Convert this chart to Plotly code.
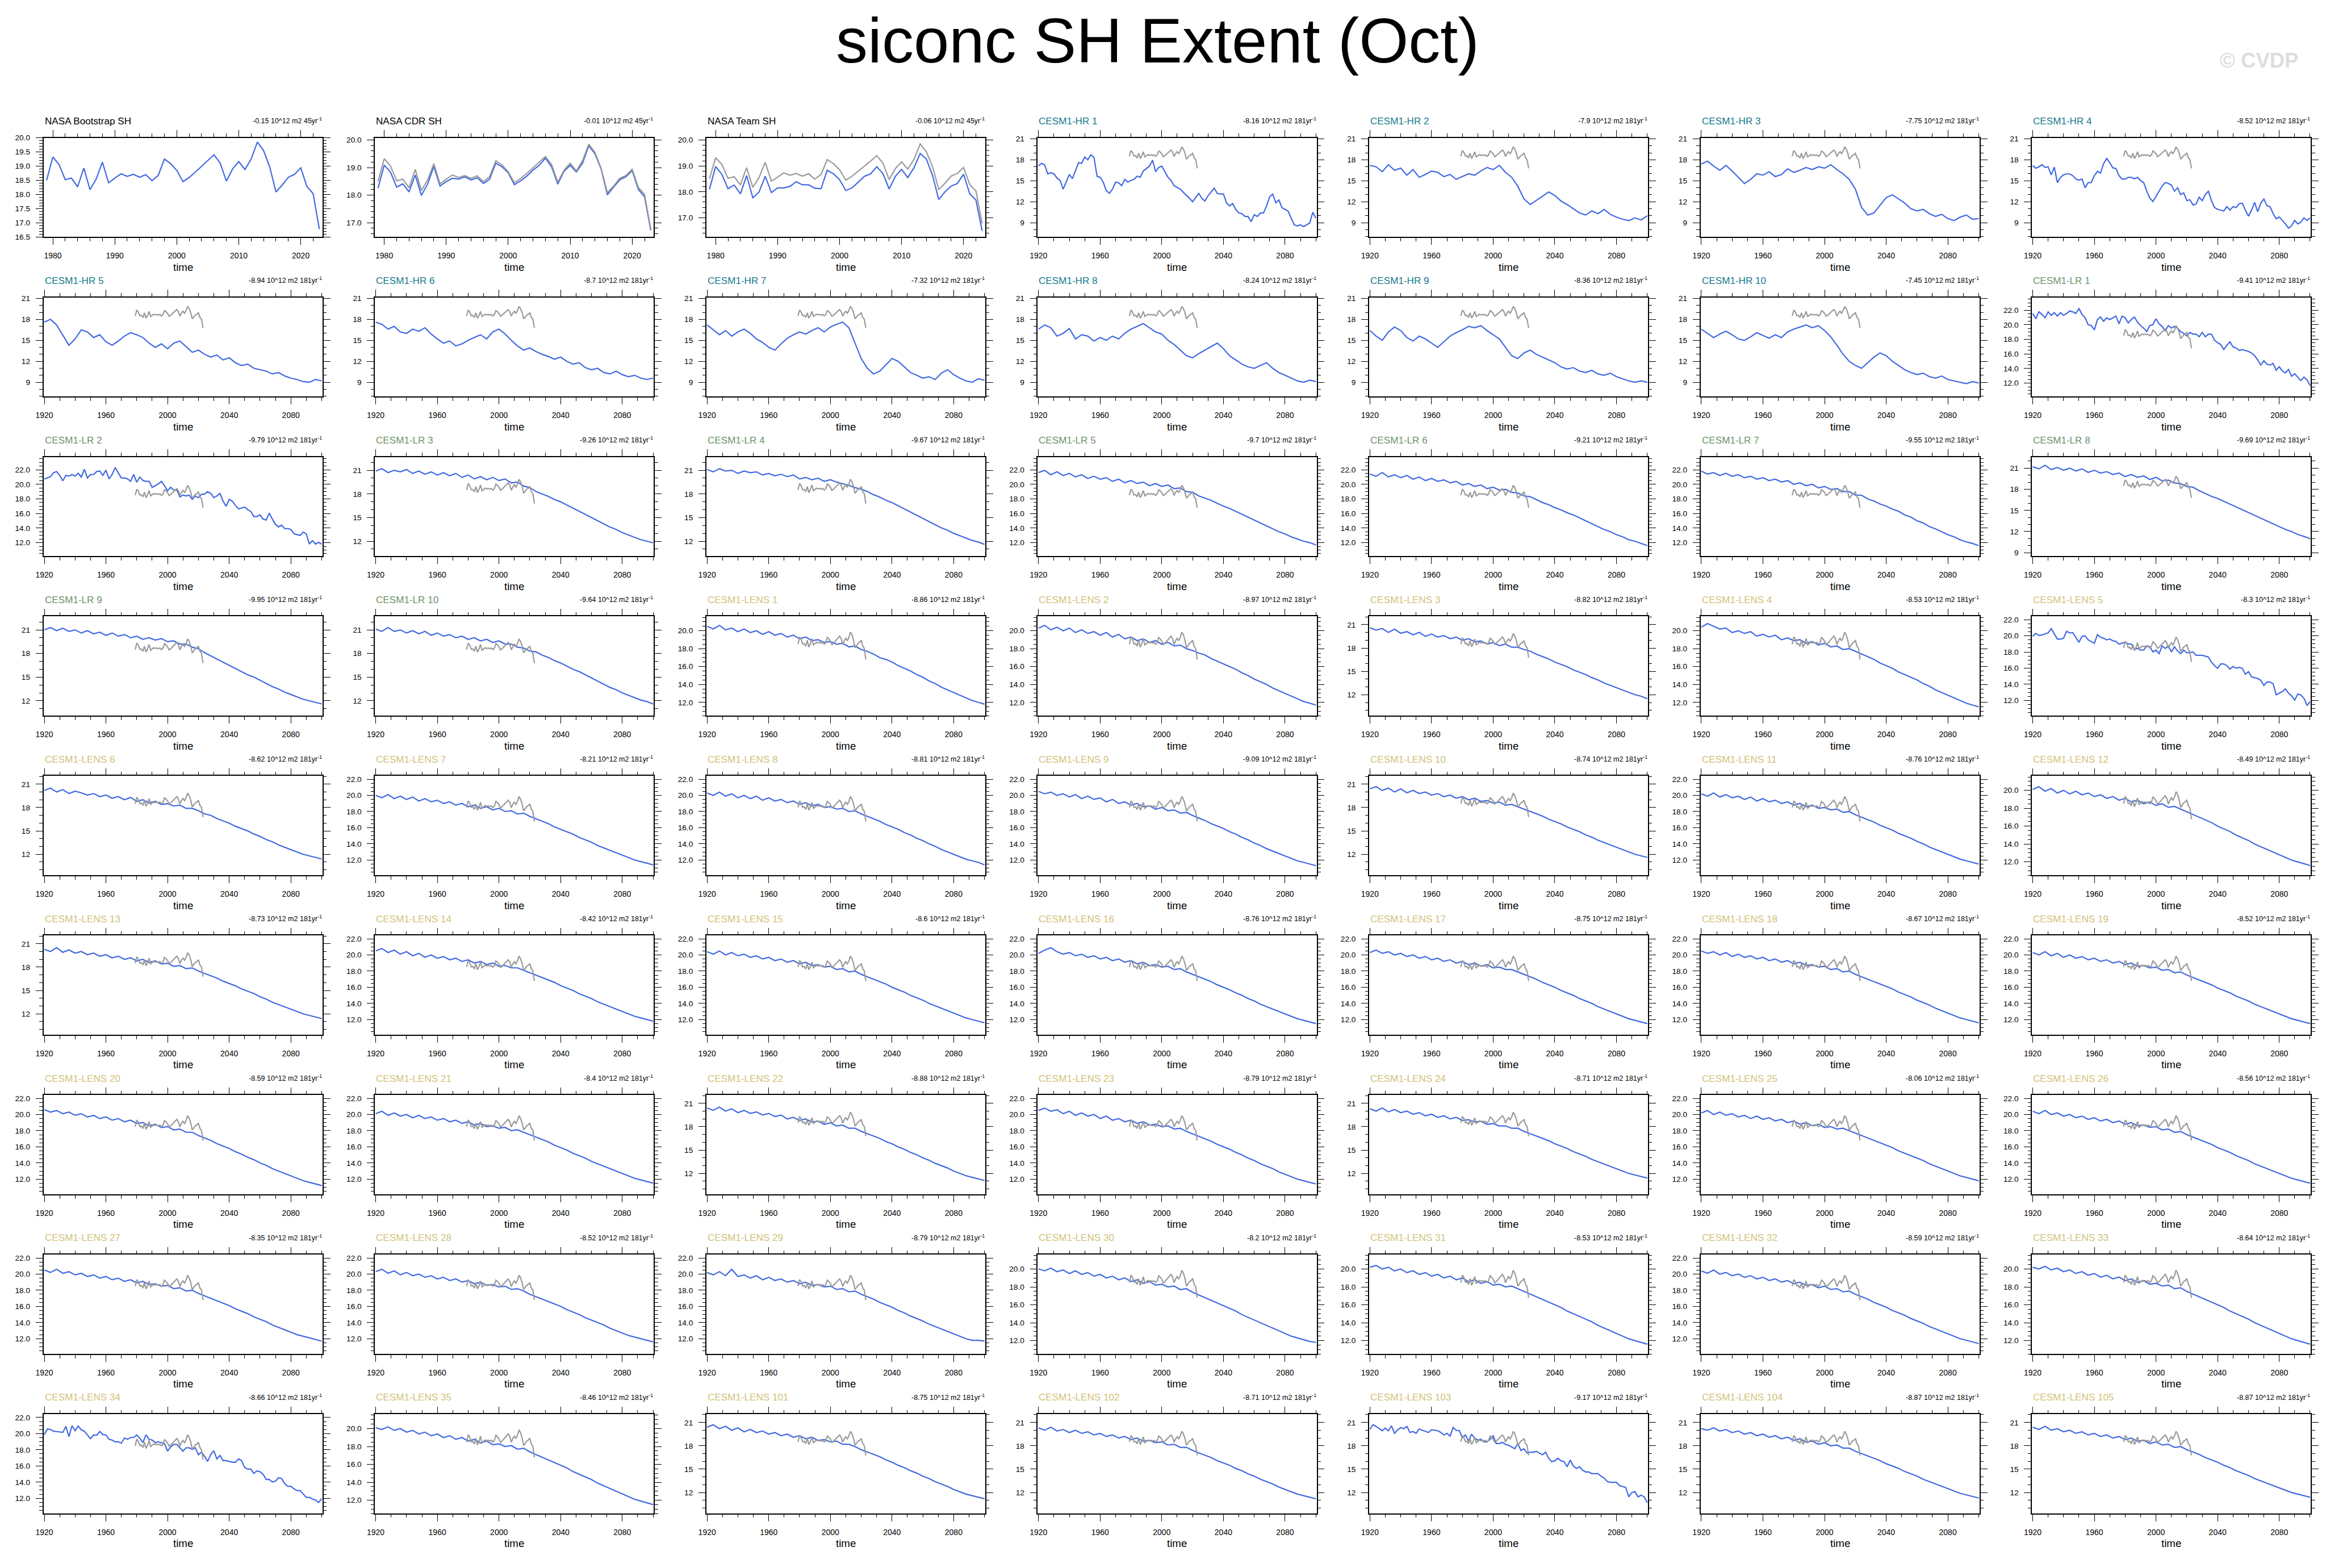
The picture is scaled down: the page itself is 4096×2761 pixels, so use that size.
import plotly.graph_objects as go

S = 0.911
W, H = 4096, 2761
OFF = 0  # page body margin is removed by the post script below
FONT = "Liberation Sans, Arial, Helvetica, sans-serif"

TITLE = "siconc SH Extent (Oct)"
WATERMARK = "© CVDP"

OBS_YEARS = list(range(1979, 2024))
YEARS2 = list(range(1920, 2101, 2))
YEARS4 = list(range(1920, 2101, 4))

BOOTSTRAP = [18.50,19.32,19.06,18.52,18.58,18.27,18.93,18.17,18.55,19.14,18.41,18.58,18.73,18.64,18.71,18.61,18.70,18.49,18.67,19.25,19.09,18.85,18.45,18.60,18.79,19.00,19.19,19.40,19.11,18.47,18.90,19.16,18.88,19.25,19.85,19.55,18.97,18.09,18.33,18.61,18.71,18.94,18.28,18.03,16.78]
CDR = [18.25,19.09,18.84,18.29,18.41,18.12,18.73,17.99,18.40,19.04,18.33,18.49,18.61,18.58,18.66,18.55,18.63,18.42,18.58,19.16,19.03,18.81,18.38,18.52,18.69,18.91,19.08,19.34,19.03,18.40,18.86,19.08,18.84,19.16,19.79,19.50,18.94,18.01,18.29,18.55,18.67,18.89,18.21,17.94,16.73]
TEAM = [18.10,18.98,18.68,18.12,18.26,17.92,18.63,17.77,17.99,18.60,17.97,18.15,18.15,18.21,18.39,18.27,18.27,18.14,18.12,18.83,18.70,18.47,18.05,18.15,18.37,18.60,18.69,18.97,18.70,18.11,18.60,18.87,18.55,18.93,19.48,19.27,18.63,17.70,18.00,18.22,18.32,18.68,17.92,17.68,16.49]

# two-year readings
HR1 = [17.13,17.5,17.25,16.0,16.15,16.0,15.4,15.05,13.8,14.8,15.9,15.3,16.5,17.6,17.5,18.4,18.0,18.7,18.35,15.65,15.5,14.8,13.6,13.2,13.8,14.8,14.7,14.3,15.2,14.8,15.05,15.2,15.65,15.5,16.4,16.75,17.1,17.95,16.3,16.9,17.1,16.3,15.5,15.05,14.3,14.05,13.8,13.35,12.95,12.5,12.0,12.6,13.2,12.5,12.1,12.85,13.45,13.95,13.2,13.1,13.1,11.85,11.4,11.75,10.9,10.4,10.3,9.9,9.9,9.15,10.15,9.9,10.4,10.4,11.4,12.7,13.1,11.85,12.25,11.15,10.9,10.65,9.65,8.7,8.55,8.7,8.45,8.7,8.95,10.5,9.65]
HR4 = [17.16,16.8,17.0,17.3,16.9,17.0,15.85,16.96,14.74,15.48,15.85,15.98,15.98,15.73,15.24,15.1,15.24,14.0,14.74,14.74,15.73,16.34,16.1,17.45,18.19,17.58,16.84,16.76,15.73,15.24,15.24,15.48,15.48,15.29,15.48,15.04,14.74,13.51,12.53,12.03,12.77,13.51,14.25,14.74,14.62,14.37,13.51,14.0,13.02,13.27,12.16,12.28,11.54,11.66,12.65,12.16,13.02,13.51,12.16,11.17,10.93,10.8,10.68,11.3,10.8,11.3,11.17,11.74,11.79,10.8,9.94,10.8,11.91,10.56,11.79,12.4,11.42,11.3,10.31,9.57,9.82,9.33,8.83,8.22,8.59,9.33,8.83,9.08,9.7,9.33,9.7]
LR1 = [21.53,20.82,21.76,21.41,20.94,21.76,21.29,21.65,21.18,21.65,21.29,21.53,21.88,21.76,21.53,22.2,21.41,20.94,20.0,19.88,19.29,20.71,21.06,20.47,20.94,20.71,20.94,21.18,20.12,21.18,20.94,20.24,20.71,21.06,20.35,19.88,19.53,19.06,19.88,20.0,20.82,20.12,19.76,19.18,19.88,19.53,19.76,19.53,19.06,18.82,18.47,18.94,18.71,18.71,18.35,18.94,18.35,18.71,18.71,17.88,17.53,17.29,16.59,17.18,17.65,16.94,16.82,16.47,16.59,16.47,16.35,16.12,15.76,15.18,14.47,15.06,14.59,14.47,14.71,13.76,14.24,13.65,13.41,13.88,12.94,13.29,12.82,12.35,12.82,12.47,11.65]
LR2 = [20.71,20.85,21.04,21.58,21.74,21.22,20.47,21.22,21.11,21.34,21.11,21.51,20.99,22.05,20.87,21.34,21.34,21.74,21.81,21.22,21.93,20.75,21.34,22.28,21.58,20.87,20.87,20.75,20.4,21.34,20.28,20.99,20.52,20.4,20.4,19.58,19.81,20.05,20.4,19.81,19.11,19.58,19.22,19.22,18.28,18.52,18.4,18.52,17.93,18.4,18.16,18.64,18.64,18.99,18.75,18.16,18.4,18.75,17.69,16.99,17.93,17.69,17.11,16.64,16.75,16.87,16.52,16.28,15.58,15.58,15.81,15.22,15.11,16.05,15.22,14.52,14.16,14.4,13.93,13.93,13.81,13.22,13.11,12.99,13.46,13.22,11.81,12.28,11.81,12.05,11.81]
LENS5 = [19.93,20.3,20.05,20.1,20.25,20.35,20.9,20.2,19.6,19.6,19.7,20.57,20.36,20.4,19.83,19.19,19.93,20.0,19.5,19.3,19.08,20.15,19.83,19.7,19.5,19.6,19.4,19.3,18.97,19.1,19.19,19.0,18.97,18.33,18.44,18.23,18.23,18.76,18.65,18.01,18.23,17.8,18.76,18.44,18.76,18.01,18.65,18.12,17.8,18.23,17.91,17.91,18.01,17.59,17.59,17.59,17.48,17.37,16.73,16.31,15.99,16.52,16.52,16.31,15.88,16.2,15.99,16.09,15.99,15.24,15.56,14.92,14.81,14.71,14.49,13.85,14.28,14.28,14.07,12.68,12.9,13.11,13.43,12.9,12.58,12.04,12.79,12.68,12.26,11.4,11.83]
LENS34 = [19.88,20.58,20.52,20.3,20.26,20.2,20.16,20.9,19.63,21.0,20.37,20.94,20.47,20.3,19.84,19.37,19.84,19.8,20.26,19.88,19.84,19.31,19.2,18.99,18.99,18.82,19.46,19.3,19.52,19.52,19.84,19.42,18.89,19.84,19.31,19.2,18.89,18.99,18.89,18.78,17.83,18.36,18.67,18.67,18.25,17.83,18.25,18.25,18.04,18.25,17.4,17.72,17.19,16.56,17.4,17.89,16.87,17.3,16.66,16.66,16.56,16.45,16.45,16.87,16.66,15.81,15.6,15.6,15.07,15.39,15.28,14.97,14.33,14.33,14.01,14.12,14.54,14.44,13.81,13.48,13.48,13.17,12.95,12.95,12.53,12.11,12.11,11.89,11.79,11.47,11.96]
LENS103 = [20.12,20.71,20.49,20.2,19.94,20.27,19.94,20.56,19.61,20.05,20.34,20.2,20.49,19.72,19.83,19.61,20.16,20.0,19.83,19.72,20.05,20.0,19.94,19.72,19.39,19.61,19.24,20.34,19.99,19.94,19.06,19.39,18.62,19.5,18.95,18.73,18.84,18.51,18.51,18.84,19.28,18.29,18.29,18.44,18.18,18.07,17.85,17.62,18.29,17.4,17.62,17.07,17.18,17.18,17.29,17.07,16.85,17.18,16.41,15.97,16.08,16.41,16.08,15.97,15.31,16.19,15.42,15.09,15.31,14.87,14.65,14.65,14.43,14.43,14.43,14.1,13.87,13.43,13.32,13.32,13.32,12.88,12.77,12.66,11.45,12.0,12.11,11.45,11.67,11.45,10.72]

# four-year readings
HR2 = [17.2,17.0,16.3,17.3,16.5,16.8,15.8,16.6,15.5,15.9,16.4,16.2,15.6,15.9,15.2,15.6,16.0,15.8,16.4,16.9,16.6,17.2,16.2,15.5,14.2,12.4,11.6,12.2,12.8,13.4,12.9,12.1,11.6,11.0,10.4,10.1,10.7,10.3,10.9,10.2,9.8,9.5,9.3,9.7,9.4,10.0]
HR3 = [17.4,17.8,17.1,16.5,17.2,16.4,15.5,14.6,15.2,16.0,15.8,16.3,15.6,15.9,16.7,16.2,16.5,16.9,16.6,17.0,16.8,17.3,16.6,16.0,15.2,13.8,11.2,10.1,10.4,11.5,12.6,13.0,12.4,11.8,11.0,10.7,10.9,10.3,9.9,10.2,9.6,9.3,9.8,10.1,9.5,9.6]
HR5 = [17.6,18.0,17.2,15.8,14.3,15.2,16.5,16.2,15.4,15.8,14.8,14.3,14.9,15.6,16.1,15.8,15.4,14.6,14.0,14.5,13.8,14.6,14.9,14.1,13.3,13.6,13.0,12.6,12.9,12.2,12.5,11.8,11.4,11.6,11.0,10.8,10.6,10.2,10.4,9.9,9.6,9.4,9.1,9.0,9.4,9.2]
HR6 = [17.6,17.3,16.6,17.0,16.2,16.0,16.6,16.3,16.8,15.9,15.2,14.6,14.9,14.2,14.5,15.0,15.4,15.8,15.2,16.2,16.6,15.9,15.0,14.2,13.6,13.9,13.4,13.0,12.7,12.3,12.6,12.0,11.6,11.8,11.1,10.8,11.0,10.4,10.2,10.6,10.1,9.8,10.0,9.6,9.4,9.6]
HR7 = [17.2,16.5,15.8,16.4,15.6,16.2,16.6,16.0,15.2,14.7,14.0,13.6,14.5,15.3,15.8,16.2,15.9,16.4,16.8,16.2,16.9,17.3,17.6,16.8,14.6,12.4,11.0,10.2,10.6,11.5,12.4,12.0,11.2,10.4,10.0,9.6,9.8,9.4,10.3,10.8,10.1,9.6,9.2,9.0,9.5,9.3]
HR8 = [16.6,17.2,16.8,15.6,16.0,16.7,15.2,15.8,15.6,14.9,15.4,15.0,15.6,15.2,16.0,16.6,17.0,17.4,16.8,16.2,15.9,15.0,14.4,13.6,12.8,12.5,13.1,13.6,14.1,14.6,13.8,12.8,12.2,11.6,11.2,11.0,11.4,11.8,11.0,10.4,10.0,9.6,9.2,9.0,9.3,9.1]
HR9 = [16.4,15.6,15.0,16.2,16.9,16.4,15.4,14.9,15.6,15.2,14.6,14.0,14.8,15.6,16.1,16.5,17.0,16.8,17.1,16.4,15.8,15.2,14.0,12.8,12.4,13.2,13.6,13.0,12.6,12.2,11.8,11.2,10.9,11.1,10.6,10.4,10.7,10.2,10.0,10.3,9.8,9.5,9.2,9.0,9.2,9.0]
HR10 = [16.6,16.0,15.4,15.9,16.3,15.8,15.2,15.0,15.5,16.1,15.7,15.3,15.8,15.4,16.2,16.6,16.9,17.2,16.8,17.1,16.4,15.5,14.3,13.0,12.0,11.4,11.0,11.8,12.6,13.2,12.8,12.0,11.4,10.8,10.4,10.1,10.3,9.8,9.6,9.9,9.4,9.2,9.0,8.8,9.1,8.9]
LR3 = [20.9,21.2,20.7,21.0,20.8,21.1,20.6,20.9,20.5,20.8,20.4,20.7,20.3,20.6,20.1,20.4,19.9,20.2,19.8,20.1,19.7,19.9,19.4,19.5,19.0,18.8,18.3,18.0,17.7,17.3,17.0,16.6,16.2,15.8,15.4,15.0,14.6,14.2,13.8,13.5,13.1,12.8,12.5,12.2,12.0,11.8]
LR4 = [21.1,20.8,21.2,20.9,21.0,20.6,20.9,20.7,20.8,20.4,20.6,20.3,20.5,20.2,20.4,19.9,20.1,19.8,20.0,19.6,19.8,19.5,19.3,19.1,18.8,18.6,18.3,17.9,17.6,17.2,16.9,16.5,16.1,15.7,15.3,14.9,14.5,14.1,13.7,13.4,13.0,12.7,12.4,12.1,11.9,11.6]
LR5 = [21.6,21.9,21.3,21.7,21.2,21.5,21.0,21.3,20.8,21.1,20.7,20.9,20.4,20.7,20.2,20.5,20.1,20.3,19.8,20.1,19.7,19.9,19.4,19.5,19.0,18.9,18.4,18.1,17.8,17.4,17.0,16.7,16.3,15.9,15.5,15.1,14.7,14.3,13.9,13.5,13.2,12.8,12.5,12.2,12.0,11.7]
LR6 = [21.4,21.1,21.6,21.0,21.3,20.9,21.2,20.7,21.0,20.5,20.8,20.4,20.6,20.2,20.4,19.9,20.1,19.7,19.9,19.4,19.6,19.2,19.3,18.9,18.8,18.4,18.3,17.9,17.5,17.2,16.8,16.5,16.1,15.8,15.4,15.0,14.6,14.2,13.8,13.5,13.1,12.8,12.4,12.2,11.9,11.6]
LR7 = [21.8,21.4,21.6,21.2,21.5,21.1,21.3,20.9,21.1,20.7,20.9,20.5,20.7,20.3,20.5,20.0,20.2,19.8,20.0,19.5,19.7,19.3,19.4,19.0,19.0,18.5,18.5,18.0,17.7,17.3,17.0,16.6,16.3,15.8,15.5,15.0,14.7,14.2,13.9,13.5,13.1,12.8,12.4,12.1,11.9,11.6]
LR8 = [21.2,20.9,21.4,20.8,21.1,20.7,21.0,20.6,20.9,20.4,20.7,20.3,20.5,20.1,20.3,19.8,20.1,19.7,19.9,19.4,19.7,19.2,19.3,18.9,18.8,18.4,18.3,17.8,17.4,17.0,16.7,16.3,15.9,15.5,15.1,14.7,14.3,13.9,13.5,13.1,12.7,12.3,12.0,11.6,11.3,11.0]
LR9 = [21.0,21.3,20.9,21.2,20.8,21.0,20.6,20.9,20.5,20.7,20.3,20.6,20.2,20.4,20.0,20.2,19.8,20.0,19.7,19.9,19.5,19.6,19.2,19.2,18.8,18.6,18.1,17.7,17.3,16.9,16.5,16.1,15.7,15.3,15.0,14.6,14.2,13.8,13.5,13.1,12.8,12.5,12.2,12.0,11.8,11.6]
LR10 = [21.1,20.8,21.3,20.8,21.0,20.6,20.9,20.5,20.8,20.3,20.6,20.2,20.4,20.0,20.2,19.8,20.0,19.6,19.8,19.4,19.6,19.2,19.2,18.8,18.7,18.3,18.2,17.8,17.5,17.1,16.8,16.4,16.0,15.7,15.3,14.9,14.5,14.1,13.7,13.4,13.0,12.7,12.4,12.1,11.9,11.6]
LENS1 = [20.5,20.2,20.6,20.1,20.3,19.9,20.2,19.8,20.0,19.6,19.9,19.5,19.7,19.3,19.5,19.1,19.3,18.9,19.0,18.7,18.8,18.5,18.6,18.2,18.3,17.9,17.7,17.4,17.0,16.8,16.5,16.1,15.8,15.5,15.1,14.8,14.4,14.1,13.7,13.4,13.1,12.8,12.5,12.2,12.0,11.8]
LENS2 = [20.3,20.6,20.1,20.4,20.0,20.3,19.8,20.1,19.7,19.9,19.5,19.8,19.3,19.6,19.1,19.3,18.9,19.1,18.7,18.9,18.5,18.7,18.3,18.4,18.0,17.8,17.5,17.3,16.9,16.6,16.3,16.0,15.7,15.3,15.0,14.6,14.3,14.0,13.6,13.3,13.0,12.7,12.4,12.1,11.9,11.7]
LENS3 = [20.6,20.3,20.5,20.0,20.4,19.9,20.1,19.7,20.0,19.5,19.8,19.4,19.6,19.2,19.4,19.0,19.2,18.8,18.9,18.5,18.7,18.3,18.5,18.1,18.1,17.8,17.6,17.2,16.9,16.6,16.2,15.9,15.6,15.2,14.9,14.6,14.2,13.9,13.5,13.2,12.9,12.6,12.3,12.0,11.8,11.5]
LENS4 = [20.4,20.8,20.5,20.2,20.3,19.8,20.0,19.7,19.9,19.4,19.6,19.3,19.5,19.0,19.2,18.9,19.0,18.6,18.8,18.4,18.6,18.2,18.3,17.9,18.0,17.7,17.4,17.1,16.8,16.4,16.1,15.8,15.4,15.1,14.8,14.5,14.1,13.8,13.4,13.1,12.8,12.5,12.2,11.9,11.7,11.5]
LENS6 = [20.2,20.5,20.0,20.3,19.8,20.1,19.9,19.6,19.8,19.4,19.6,19.2,19.4,19.0,19.3,18.8,19.0,18.6,18.8,18.4,18.5,18.2,18.3,17.9,17.9,17.6,17.2,17.0,16.6,16.3,16.0,15.6,15.3,15.0,14.6,14.3,13.9,13.6,13.2,12.9,12.6,12.3,12.0,11.8,11.6,11.4]
LENS7 = [20.0,19.7,20.1,19.6,19.9,19.5,19.8,19.3,19.6,19.2,19.4,19.0,19.2,18.8,19.0,18.6,18.8,18.4,18.6,18.2,18.4,18.0,18.1,17.7,17.8,17.4,17.1,16.8,16.5,16.1,15.8,15.5,15.2,14.8,14.5,14.2,13.8,13.5,13.2,12.9,12.6,12.3,12.0,11.8,11.6,11.4]
LENS8 = [20.3,20.0,20.4,19.9,20.2,19.7,20.0,19.6,19.9,19.4,19.7,19.3,19.5,19.1,19.3,18.9,19.1,18.7,18.9,18.5,18.6,18.3,18.4,18.0,18.1,17.7,17.4,17.1,16.8,16.4,16.1,15.8,15.4,15.1,14.7,14.4,14.0,13.7,13.3,13.0,12.7,12.4,12.1,11.9,11.7,11.4]
LENS9 = [20.5,20.2,20.4,20.0,20.2,19.8,20.1,19.6,19.9,19.5,19.7,19.2,19.5,19.0,19.2,18.8,19.0,18.6,18.7,18.3,18.5,18.1,18.2,17.8,17.9,17.5,17.2,16.9,16.5,16.2,15.9,15.5,15.2,14.8,14.5,14.1,13.8,13.4,13.1,12.8,12.5,12.2,11.9,11.7,11.5,11.3]
LENS10 = [20.4,20.7,20.2,20.5,20.0,20.4,19.9,20.2,19.8,20.0,19.6,19.8,19.4,19.6,19.2,19.4,19.0,19.2,18.8,18.9,18.6,18.7,18.3,18.4,18.1,17.8,17.5,17.2,16.9,16.5,16.2,15.9,15.5,15.2,14.9,14.5,14.2,13.8,13.5,13.2,12.9,12.6,12.3,12.0,11.8,11.6]
LENS11 = [20.2,19.9,20.3,19.8,20.1,19.7,19.9,19.5,19.8,19.3,19.6,19.2,19.4,19.0,19.2,18.8,19.0,18.6,18.8,18.4,18.5,18.2,18.3,17.9,18.0,17.6,17.3,17.0,16.7,16.3,16.0,15.7,15.3,15.0,14.7,14.3,14.0,13.6,13.3,13.0,12.7,12.4,12.1,11.9,11.7,11.5]
LENS12 = [20.1,20.4,19.9,20.2,19.7,20.0,19.6,19.9,19.5,19.7,19.3,19.5,19.1,19.3,18.9,19.1,18.7,18.9,18.5,18.7,18.3,18.5,18.1,18.2,17.9,17.6,17.3,17.0,16.7,16.4,16.0,15.7,15.4,15.0,14.7,14.4,14.0,13.7,13.4,13.1,12.8,12.5,12.2,12.0,11.8,11.6]
LENS13 = [20.3,20.0,20.5,19.9,20.2,19.8,20.0,19.6,19.8,19.4,19.6,19.2,19.4,19.0,19.2,18.8,19.0,18.6,18.8,18.4,18.5,18.1,18.2,17.8,17.9,17.5,17.2,16.9,16.6,16.2,15.9,15.6,15.2,14.9,14.6,14.2,13.9,13.5,13.2,12.9,12.6,12.3,12.0,11.8,11.6,11.4]
LENS14 = [20.5,20.8,20.3,20.6,20.1,20.4,19.9,20.2,19.7,20.0,19.6,19.8,19.4,19.6,19.2,19.4,19.0,19.2,18.8,19.0,18.6,18.7,18.4,18.4,18.1,17.8,17.5,17.2,16.9,16.6,16.2,15.9,15.6,15.2,14.9,14.6,14.2,13.9,13.6,13.3,13.0,12.7,12.4,12.2,12.0,11.8]
LENS15 = [20.4,20.1,20.5,20.0,20.3,19.9,20.1,19.7,19.9,19.5,19.7,19.3,19.5,19.1,19.3,18.9,19.1,18.7,18.8,18.5,18.6,18.2,18.3,17.9,18.0,17.6,17.3,17.0,16.7,16.4,16.0,15.7,15.4,15.0,14.7,14.4,14.0,13.7,13.4,13.1,12.8,12.5,12.2,12.0,11.8,11.6]
LENS16 = [20.2,20.6,20.9,20.4,20.1,20.3,19.9,20.1,19.7,19.9,19.5,19.7,19.3,19.5,19.1,19.3,18.9,19.1,18.7,18.8,18.5,18.6,18.2,18.3,17.9,17.6,17.3,17.0,16.7,16.3,16.0,15.7,15.3,15.0,14.6,14.3,13.9,13.6,13.3,13.0,12.7,12.4,12.1,11.9,11.7,11.5]
LENS17 = [20.3,20.6,20.2,20.4,20.0,20.2,19.8,20.0,19.6,19.8,19.4,19.6,19.2,19.4,19.0,19.2,18.8,19.0,18.6,18.8,18.4,18.5,18.2,18.2,17.9,17.6,17.3,17.0,16.6,16.3,16.0,15.6,15.3,15.0,14.6,14.3,14.0,13.6,13.3,13.0,12.7,12.4,12.1,11.9,11.7,11.5]
LENS18 = [20.5,20.2,20.4,20.0,20.3,19.8,20.1,19.7,19.9,19.5,19.7,19.3,19.5,19.1,19.3,18.9,19.1,18.7,18.8,18.5,18.6,18.2,18.3,17.9,18.0,17.6,17.3,17.0,16.7,16.4,16.1,15.8,15.4,15.1,14.8,14.4,14.1,13.8,13.4,13.1,12.8,12.5,12.2,12.0,11.8,11.6]
LENS19 = [20.3,20.0,20.4,19.9,20.2,19.7,20.0,19.6,19.8,19.4,19.6,19.2,19.4,19.0,19.2,18.8,19.0,18.6,18.7,18.4,18.5,18.1,18.2,17.8,17.9,17.5,17.2,16.9,16.6,16.3,15.9,15.6,15.3,14.9,14.6,14.3,13.9,13.6,13.3,13.0,12.7,12.4,12.1,11.9,11.7,11.5]
LENS20 = [20.6,20.3,20.5,20.1,20.3,19.9,20.1,19.7,19.9,19.5,19.7,19.3,19.5,19.1,19.3,18.9,19.0,18.6,18.8,18.4,18.5,18.1,18.2,17.8,17.8,17.4,17.1,16.8,16.4,16.1,15.8,15.4,15.1,14.7,14.4,14.0,13.7,13.3,13.0,12.7,12.4,12.1,11.8,11.6,11.4,11.2]
LENS21 = [20.1,20.4,19.9,20.2,19.8,20.0,19.6,19.9,19.5,19.7,19.3,19.5,19.1,19.3,18.9,19.1,18.7,18.9,18.5,18.6,18.3,18.4,18.0,18.1,17.8,17.5,17.2,16.9,16.6,16.2,15.9,15.6,15.2,14.9,14.6,14.2,13.9,13.6,13.3,13.0,12.7,12.4,12.1,11.9,11.7,11.5]
LENS22 = [20.4,20.1,20.5,20.0,20.3,19.8,20.1,19.7,19.9,19.5,19.7,19.3,19.5,19.0,19.2,18.8,19.0,18.6,18.7,18.3,18.5,18.1,18.2,17.8,17.8,17.4,17.1,16.8,16.5,16.1,15.8,15.4,15.1,14.7,14.4,14.0,13.7,13.3,13.0,12.7,12.3,12.0,11.7,11.5,11.3,11.1]
LENS23 = [20.5,20.8,20.4,20.6,20.1,20.4,19.9,20.2,19.8,20.0,19.5,19.8,19.3,19.5,19.1,19.3,18.9,19.1,18.7,18.8,18.5,18.6,18.2,18.3,17.9,17.6,17.3,17.0,16.7,16.3,16.0,15.7,15.3,15.0,14.6,14.3,13.9,13.6,13.3,12.9,12.6,12.3,12.0,11.8,11.6,11.4]
LENS24 = [20.3,20.0,20.4,19.9,20.2,19.8,20.0,19.6,19.8,19.4,19.6,19.2,19.4,19.0,19.2,18.8,18.9,18.6,18.7,18.3,18.4,18.1,18.1,17.8,17.8,17.4,17.1,16.8,16.5,16.2,15.8,15.5,15.2,14.8,14.5,14.2,13.8,13.5,13.2,12.9,12.6,12.3,12.0,11.8,11.6,11.4]
LENS25 = [20.2,20.5,20.0,20.3,19.9,20.1,19.7,19.9,19.5,19.8,19.4,19.6,19.2,19.4,19.0,19.2,18.8,19.0,18.6,18.8,18.4,18.5,18.2,18.3,18.0,17.7,17.4,17.1,16.8,16.5,16.2,15.9,15.5,15.2,14.9,14.6,14.3,13.9,13.6,13.3,13.0,12.7,12.4,12.2,12.0,11.8]
LENS26 = [20.4,20.1,20.5,20.0,20.2,19.8,20.0,19.6,19.8,19.4,19.6,19.2,19.4,19.0,19.2,18.8,19.0,18.6,18.7,18.4,18.5,18.1,18.2,17.8,17.9,17.5,17.2,16.9,16.6,16.3,15.9,15.6,15.3,14.9,14.6,14.3,13.9,13.6,13.3,13.0,12.7,12.4,12.1,11.9,11.7,11.5]
LENS27 = [20.5,20.2,20.6,20.1,20.3,19.9,20.1,19.7,19.9,19.5,19.7,19.3,19.5,19.1,19.3,18.9,19.1,18.7,18.8,18.5,18.6,18.2,18.3,17.9,18.0,17.6,17.3,17.0,16.7,16.4,16.1,15.7,15.4,15.1,14.7,14.4,14.1,13.7,13.4,13.1,12.8,12.5,12.3,12.1,11.9,11.7]
LENS28 = [20.3,20.6,20.1,20.4,19.9,20.2,19.8,20.0,19.6,19.8,19.4,19.6,19.2,19.4,19.0,19.2,18.8,19.0,18.6,18.7,18.4,18.5,18.1,18.2,17.9,17.5,17.2,16.9,16.6,16.3,16.0,15.6,15.3,15.0,14.6,14.3,14.0,13.7,13.3,13.0,12.7,12.4,12.2,12.0,11.8,11.6]
LENS29 = [20.2,19.9,20.3,19.8,20.6,19.7,19.9,19.5,19.8,19.3,19.6,19.2,19.4,19.0,19.2,18.8,19.0,18.6,18.7,18.4,18.5,18.1,18.2,17.8,17.9,17.5,17.2,16.9,16.5,16.2,15.9,15.5,15.2,14.8,14.5,14.2,13.8,13.5,13.2,12.9,12.6,12.3,12.0,11.8,11.8,11.7]
LENS30 = [20.0,19.8,20.1,19.7,19.9,19.5,19.8,19.4,19.6,19.2,19.4,19.0,19.2,18.8,19.0,18.6,18.8,18.4,18.6,18.2,18.3,18.0,18.1,17.7,17.8,17.4,17.1,16.8,16.5,16.2,15.9,15.6,15.3,14.9,14.6,14.3,14.0,13.7,13.4,13.1,12.8,12.5,12.3,12.1,11.9,11.8]
LENS31 = [20.2,20.4,20.0,20.2,19.8,20.0,19.6,19.8,19.4,19.6,19.2,19.4,19.0,19.2,18.8,19.0,18.6,18.8,18.4,18.6,18.2,18.3,18.0,18.1,17.8,17.5,17.2,16.9,16.6,16.3,16.0,15.7,15.3,15.0,14.7,14.4,14.1,13.7,13.4,13.1,12.8,12.5,12.2,12.0,11.8,11.6]
LENS32 = [20.4,20.1,20.5,20.0,20.2,19.8,20.0,19.6,19.8,19.4,19.6,19.2,19.4,19.0,19.2,18.8,19.0,18.6,18.7,18.3,18.5,18.1,18.2,17.8,17.9,17.5,17.2,16.9,16.5,16.2,15.9,15.5,15.2,14.9,14.5,14.2,13.9,13.5,13.2,12.9,12.6,12.3,12.0,11.8,11.6,11.4]
LENS33 = [20.2,20.0,20.3,19.9,20.1,19.7,19.9,19.5,19.7,19.3,19.5,19.1,19.3,18.9,19.1,18.7,18.9,18.5,18.7,18.3,18.4,18.1,18.2,17.8,17.9,17.5,17.2,16.9,16.6,16.3,16.0,15.7,15.3,15.0,14.7,14.4,14.0,13.7,13.4,13.1,12.8,12.5,12.2,12.0,11.8,11.6]
LENS35 = [20.1,19.9,20.2,19.8,20.0,19.6,19.8,19.4,19.6,19.2,19.4,19.0,19.2,18.8,19.0,18.6,18.8,18.4,18.6,18.2,18.3,18.0,18.1,17.7,17.8,17.4,17.1,16.8,16.5,16.2,15.9,15.6,15.2,14.9,14.6,14.3,13.9,13.6,13.3,13.0,12.7,12.4,12.1,11.9,11.7,11.5]
LENS101 = [20.4,20.7,20.2,20.5,20.0,20.3,19.8,20.1,19.7,19.9,19.5,19.7,19.3,19.5,19.1,19.3,18.9,19.1,18.7,18.8,18.5,18.6,18.2,18.2,17.9,17.5,17.2,16.9,16.6,16.2,15.9,15.5,15.2,14.8,14.5,14.1,13.8,13.4,13.1,12.8,12.4,12.1,11.8,11.6,11.4,11.2]
LENS102 = [20.3,20.0,20.4,19.9,20.1,19.7,20.0,19.6,19.8,19.4,19.6,19.2,19.4,19.0,19.2,18.8,19.0,18.6,18.7,18.4,18.5,18.1,18.2,17.8,17.8,17.4,17.1,16.8,16.5,16.1,15.8,15.5,15.1,14.8,14.4,14.1,13.7,13.4,13.1,12.7,12.4,12.1,11.8,11.6,11.4,11.2]
LENS104 = [20.2,20.0,20.3,19.9,20.1,19.7,19.9,19.5,19.7,19.3,19.5,19.1,19.3,18.9,19.1,18.7,18.9,18.5,18.6,18.2,18.4,18.0,18.1,17.7,17.7,17.3,17.0,16.7,16.4,16.1,15.7,15.4,15.1,14.7,14.4,14.1,13.7,13.4,13.1,12.8,12.5,12.2,11.9,11.7,11.5,11.3]
LENS105 = [20.4,20.1,20.5,20.0,20.2,19.8,20.0,19.6,19.8,19.4,19.6,19.2,19.4,19.0,19.2,18.8,19.0,18.6,18.7,18.3,18.5,18.1,18.2,17.8,17.9,17.5,17.2,16.9,16.5,16.2,15.9,15.5,15.2,14.8,14.5,14.2,13.8,13.5,13.2,12.9,12.6,12.3,12.0,11.8,11.6,11.4]

BLUE = "#4169e1"
GRAY = "#9a9a9a"
TITLE_COLORS = {"obs": "#000000", "HR": "#17798f", "LR": "#6b936b", "LENS": "#d1c27a"}

# y-axis styles: (ymin, ymax, major step, minor step, format)
Y_BOOT = (16.5, 20.0, 0.5, 0.1, ".1f")
Y_CDR = (16.48, 20.08, 1.0, 0.2, ".1f")
Y_TEAM = (16.25, 20.09, 1.0, 0.2, ".1f")
Y_HR = (6.95, 21.15, 3, 1, ".0f")
Y_LRA = (10.15, 23.75, 2, 0.5, ".1f")
Y_LRB = (10.1, 22.7, 3, 1, ".0f")
Y_LR9 = (8.5, 22.6, 3, 1, ".0f")
Y_LA = (10.1, 22.4, 2, 0.5, ".1f")
Y_LB = (9.3, 22.05, 3, 1, ".0f")
Y_LC = (10.5, 21.6, 2, 0.5, ".1f")

# (label, group, trend value, trend years, x values, series, y style)
PANELS = [
    ("NASA Bootstrap SH", "obs", "-0.15", "45", OBS_YEARS, BOOTSTRAP, Y_BOOT),
    ("NASA CDR SH", "obs", "-0.01", "45", OBS_YEARS, CDR, Y_CDR),
    ("NASA Team SH", "obs", "-0.06", "45", OBS_YEARS, TEAM, Y_TEAM),
    ("CESM1-HR 1", "HR", "-8.16", "181", YEARS2, HR1, Y_HR),
    ("CESM1-HR 2", "HR", "-7.9", "181", YEARS4, HR2, Y_HR),
    ("CESM1-HR 3", "HR", "-7.75", "181", YEARS4, HR3, Y_HR),
    ("CESM1-HR 4", "HR", "-8.52", "181", YEARS2, HR4, Y_HR),
    ("CESM1-HR 5", "HR", "-8.94", "181", YEARS4, HR5, Y_HR),
    ("CESM1-HR 6", "HR", "-8.7", "181", YEARS4, HR6, Y_HR),
    ("CESM1-HR 7", "HR", "-7.32", "181", YEARS4, HR7, Y_HR),
    ("CESM1-HR 8", "HR", "-8.24", "181", YEARS4, HR8, Y_HR),
    ("CESM1-HR 9", "HR", "-8.36", "181", YEARS4, HR9, Y_HR),
    ("CESM1-HR 10", "HR", "-7.45", "181", YEARS4, HR10, Y_HR),
    ("CESM1-LR 1", "LR", "-9.41", "181", YEARS2, LR1, Y_LRA),
    ("CESM1-LR 2", "LR", "-9.79", "181", YEARS2, LR2, Y_LRA),
    ("CESM1-LR 3", "LR", "-9.26", "181", YEARS4, LR3, Y_LRB),
    ("CESM1-LR 4", "LR", "-9.67", "181", YEARS4, LR4, Y_LRB),
    ("CESM1-LR 5", "LR", "-9.7", "181", YEARS4, LR5, Y_LRA),
    ("CESM1-LR 6", "LR", "-9.21", "181", YEARS4, LR6, Y_LRA),
    ("CESM1-LR 7", "LR", "-9.55", "181", YEARS4, LR7, Y_LRA),
    ("CESM1-LR 8", "LR", "-9.69", "181", YEARS4, LR8, Y_LR9),
    ("CESM1-LR 9", "LR", "-9.95", "181", YEARS4, LR9, Y_LRB),
    ("CESM1-LR 10", "LR", "-9.64", "181", YEARS4, LR10, Y_LRB),
    ("CESM1-LENS 1", "LENS", "-8.86", "181", YEARS4, LENS1, Y_LC),
    ("CESM1-LENS 2", "LENS", "-8.97", "181", YEARS4, LENS2, Y_LC),
    ("CESM1-LENS 3", "LENS", "-8.82", "181", YEARS4, LENS3, Y_LB),
    ("CESM1-LENS 4", "LENS", "-8.53", "181", YEARS4, LENS4, Y_LC),
    ("CESM1-LENS 5", "LENS", "-8.3", "181", YEARS2, LENS5, Y_LA),
    ("CESM1-LENS 6", "LENS", "-8.62", "181", YEARS4, LENS6, Y_LB),
    ("CESM1-LENS 7", "LENS", "-8.21", "181", YEARS4, LENS7, Y_LA),
    ("CESM1-LENS 8", "LENS", "-8.81", "181", YEARS4, LENS8, Y_LA),
    ("CESM1-LENS 9", "LENS", "-9.09", "181", YEARS4, LENS9, Y_LA),
    ("CESM1-LENS 10", "LENS", "-8.74", "181", YEARS4, LENS10, Y_LB),
    ("CESM1-LENS 11", "LENS", "-8.76", "181", YEARS4, LENS11, Y_LA),
    ("CESM1-LENS 12", "LENS", "-8.49", "181", YEARS4, LENS12, Y_LC),
    ("CESM1-LENS 13", "LENS", "-8.73", "181", YEARS4, LENS13, Y_LB),
    ("CESM1-LENS 14", "LENS", "-8.42", "181", YEARS4, LENS14, Y_LA),
    ("CESM1-LENS 15", "LENS", "-8.6", "181", YEARS4, LENS15, Y_LA),
    ("CESM1-LENS 16", "LENS", "-8.76", "181", YEARS4, LENS16, Y_LA),
    ("CESM1-LENS 17", "LENS", "-8.75", "181", YEARS4, LENS17, Y_LA),
    ("CESM1-LENS 18", "LENS", "-8.67", "181", YEARS4, LENS18, Y_LA),
    ("CESM1-LENS 19", "LENS", "-8.52", "181", YEARS4, LENS19, Y_LA),
    ("CESM1-LENS 20", "LENS", "-8.59", "181", YEARS4, LENS20, Y_LA),
    ("CESM1-LENS 21", "LENS", "-8.4", "181", YEARS4, LENS21, Y_LA),
    ("CESM1-LENS 22", "LENS", "-8.88", "181", YEARS4, LENS22, Y_LB),
    ("CESM1-LENS 23", "LENS", "-8.79", "181", YEARS4, LENS23, Y_LA),
    ("CESM1-LENS 24", "LENS", "-8.71", "181", YEARS4, LENS24, Y_LB),
    ("CESM1-LENS 25", "LENS", "-8.06", "181", YEARS4, LENS25, Y_LA),
    ("CESM1-LENS 26", "LENS", "-8.56", "181", YEARS4, LENS26, Y_LA),
    ("CESM1-LENS 27", "LENS", "-8.35", "181", YEARS4, LENS27, Y_LA),
    ("CESM1-LENS 28", "LENS", "-8.52", "181", YEARS4, LENS28, Y_LA),
    ("CESM1-LENS 29", "LENS", "-8.79", "181", YEARS4, LENS29, Y_LA),
    ("CESM1-LENS 30", "LENS", "-8.2", "181", YEARS4, LENS30, Y_LC),
    ("CESM1-LENS 31", "LENS", "-8.53", "181", YEARS4, LENS31, Y_LC),
    ("CESM1-LENS 32", "LENS", "-8.59", "181", YEARS4, LENS32, Y_LA),
    ("CESM1-LENS 33", "LENS", "-8.64", "181", YEARS4, LENS33, Y_LC),
    ("CESM1-LENS 34", "LENS", "-8.66", "181", YEARS2, LENS34, Y_LA),
    ("CESM1-LENS 35", "LENS", "-8.46", "181", YEARS4, LENS35, Y_LC),
    ("CESM1-LENS 101", "LENS", "-8.75", "181", YEARS4, LENS101, Y_LB),
    ("CESM1-LENS 102", "LENS", "-8.71", "181", YEARS4, LENS102, Y_LB),
    ("CESM1-LENS 103", "LENS", "-9.17", "181", YEARS2, LENS103, Y_LB),
    ("CESM1-LENS 104", "LENS", "-8.87", "181", YEARS4, LENS104, Y_LB),
    ("CESM1-LENS 105", "LENS", "-8.87", "181", YEARS4, LENS105, Y_LB),
]

# reference-pixel geometry (scaled by S)
BOX_L0, COL_DX, BOX_W = 69.0, 642.8, 541.0
BOX_T0, ROW_DY, BOX_H = 260.0, 310.1, 193.0


def fx(x):
    return (x - OFF) / W


def fy(y):
    return 1 - (y - OFF) / H


fig = go.Figure()
layout = dict(
    width=W, height=H, margin=dict(l=0, r=0, t=0, b=0),
    paper_bgcolor="white", plot_bgcolor="white", showlegend=False,
    font=dict(family=FONT, color="black"),
)
annotations = []

for i, (label, group, tval, tyrs, years, series, ystyle) in enumerate(PANELS):
    r, c = divmod(i, 7)
    left = (BOX_L0 + COL_DX * c) * S
    top = (BOX_T0 + ROW_DY * r) * S
    w = BOX_W * S
    h = BOX_H * S
    n = "" if i == 0 else str(i + 1)
    if group == "obs":
        xr = [1978.5, 2023.5]; x0, xd, xm = 1980, 10, 2
    else:
        xr = [1919.5, 2100.5]; x0, xd, xm = 1920, 40, 10
    ymin, ymax, yd, ym, yfmt = ystyle
    common = dict(
        showline=True, linecolor="black", linewidth=1.6, mirror="allticks",
        ticks="outside", ticklen=12, tickwidth=1.4, tickcolor="black",
        showgrid=False, zeroline=False, ticklabelstandoff=7,
    )
    layout["xaxis" + n] = dict(
        domain=[fx(left), fx(left + w)], anchor="y" + n, range=xr,
        tickmode="linear", tick0=x0, dtick=xd,
        tickfont=dict(size=14, family=FONT, color="black"),
        minor=dict(tick0=x0, dtick=xm, ticklen=5.5, tickwidth=1.2,
                   tickcolor="black", ticks="outside", showgrid=False),
        **common,
    )
    layout["yaxis" + n] = dict(
        domain=[fy(top + h), fy(top)], anchor="x" + n,
        range=[ymin, ymax], tickmode="linear", tick0=0, dtick=yd,
        tickformat=yfmt,
        tickfont=dict(size=13.7, family=FONT, color="black"),
        minor=dict(tick0=0, dtick=ym, ticklen=5.5, tickwidth=1.2,
                   tickcolor="black", ticks="outside", showgrid=False),
        **common,
    )
    fig.add_trace(go.Scatter(
        x=years, y=series, mode="lines", line=dict(color=BLUE, width=2.2),
        xaxis="x" + n, yaxis="y" + n, hoverinfo="skip",
    ))
    if i != 0:
        fig.add_trace(go.Scatter(
            x=OBS_YEARS, y=BOOTSTRAP, mode="lines", line=dict(color=GRAY, width=2.2),
            xaxis="x" + n, yaxis="y" + n, hoverinfo="skip",
        ))
    annotations.append(dict(
        text=label, xref="paper", yref="paper", x=fx(left),
        y=fy(top - 29.5), xanchor="left", yanchor="middle", showarrow=False,
        font=dict(size=17.1, family=FONT, color=TITLE_COLORS[group]),
    ))
    annotations.append(dict(
        text=f"{tval} 10^12 m2 {tyrs}yr<sup>-1</sup>", xref="paper", yref="paper",
        x=fx(left + w + 1), y=fy(top - 30.5), xanchor="right", yanchor="middle",
        showarrow=False, font=dict(size=12.5, family=FONT, color="black"),
    ))
    annotations.append(dict(
        text="time", xref="paper", yref="paper", x=fx(left + w / 2),
        y=fy(top + h + 53), xanchor="center", yanchor="middle",
        showarrow=False, font=dict(size=18.7, family=FONT, color="black"),
    ))

annotations.append(dict(
    text=TITLE, xref="paper", yref="paper", x=fx(2031), y=fy(65),
    xanchor="center", yanchor="middle", showarrow=False,
    font=dict(size=112, family=FONT, color="black"),
))
annotations.append(dict(
    text="<b>" + WATERMARK + "</b>", xref="paper", yref="paper", x=fx(4049), y=fy(100),
    xanchor="right", yanchor="middle", showarrow=False,
    font=dict(size=36.5, family=FONT, color="#dddddd"),
))
layout["annotations"] = annotations
fig.update_layout(**layout)
fig.write_html(
    "out.html",
    config={"displayModeBar": False},
    post_script="document.body.style.margin='0px';",
)
